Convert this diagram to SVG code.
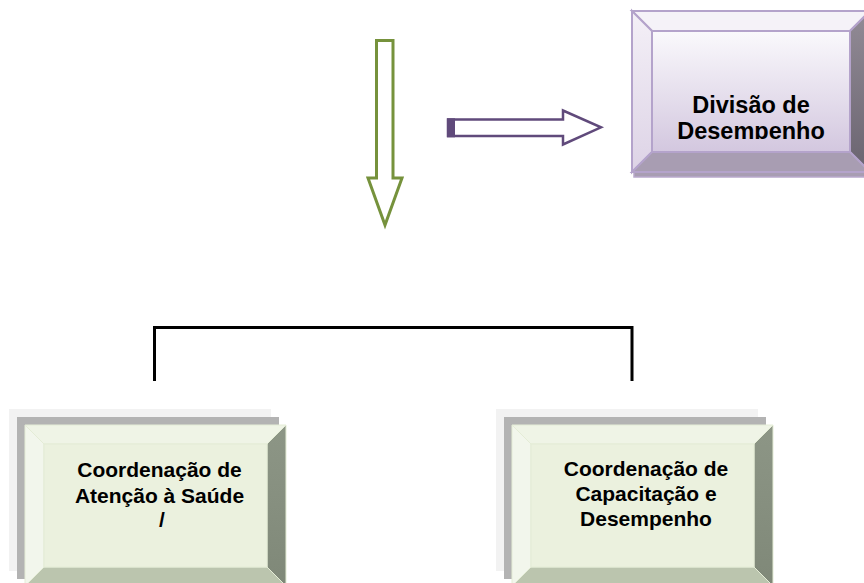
<svg xmlns="http://www.w3.org/2000/svg" width="864" height="583" viewBox="0 0 864 583">
  <defs>
    <style>
      .lbl { font-family: "Liberation Sans", Arial, sans-serif; font-weight: bold; fill: #000; text-anchor: middle; }
      .g-lbl { font-size: 21px; }
      .p-lbl { font-size: 23.5px; }
      .g-face { fill: #EBF1DE; stroke: #E4ECD6; stroke-width: 1; }
      .g-top { fill: #EFF4E6; stroke: #E4ECD6; stroke-width: 1; }
      .g-left { fill: #F2F6EC; stroke: #E4ECD6; stroke-width: 1; }
      .g-right { fill: url(#gRight); stroke: #E4ECD6; stroke-width: 1; }
      .g-bottom { fill: #BBC5AE; stroke: #E4ECD6; stroke-width: 1; }
      .sh1 { fill: #F2F2F2; }
      .sh2 { fill: #B3B3B3; }
      .p-face { fill: url(#pFace); stroke: #B4A3CB; stroke-width: 2; }
      .p-top { fill: #F5F2F8; stroke: #B4A3CB; stroke-width: 2; }
      .p-left { fill: url(#pLeft); stroke: #B4A3CB; stroke-width: 2; }
      .p-right { fill: url(#pRight); stroke: #B4A3CB; stroke-width: 2; }
      .p-bottom { fill: #A89DB2; stroke: #B4A3CB; stroke-width: 2; }
      .conn { fill: none; stroke: #000; stroke-width: 3; }
    </style>
    <linearGradient id="gRight" x1="0" y1="0" x2="0" y2="1">
      <stop offset="0" stop-color="#8D9686"/>
      <stop offset="1" stop-color="#7F8878"/>
    </linearGradient>
    <linearGradient id="pFace" x1="0" y1="0" x2="0" y2="1">
      <stop offset="0" stop-color="#FAF9FC"/>
      <stop offset="1" stop-color="#D3C7DF"/>
    </linearGradient>
    <linearGradient id="pLeft" x1="0" y1="0" x2="0" y2="1">
      <stop offset="0" stop-color="#F4F0F7"/>
      <stop offset="1" stop-color="#DDD3E6"/>
    </linearGradient>
    <linearGradient id="pRight" x1="0" y1="0" x2="0" y2="1">
      <stop offset="0" stop-color="#928B96"/>
      <stop offset="1" stop-color="#6A6470"/>
    </linearGradient>
    <clipPath id="divClip">
      <rect x="652" y="31" width="198" height="108"/>
    </clipPath>
  </defs>

  <rect width="864" height="583" fill="#FFFFFF"/>

  <g id="connectors">
    <path id="arrow-down" d="M376.5,40.5 H393 V178 H402 L385,225 L368,178 H376.5 Z" fill="#FFFFFF" stroke="#76923C" stroke-width="3" stroke-linejoin="miter"/>
    <path id="arrow-right" d="M448,119.5 H563 V110.5 L601,127.3 L563,144.5 V136 H448 Z" fill="#FFFFFF" stroke="#604A7B" stroke-width="2.5" stroke-linejoin="miter"/>
    <rect x="447" y="118.3" width="8" height="19" fill="#604A7B"/>
    <path id="bracket" class="conn" d="M154.5,381 V327.5 H632 V381"/>
  </g>

  <g id="node-divisao">
    <rect x="634" y="16" width="238" height="161" fill="#A89DB2" stroke="#B9A9CC" stroke-width="1.5"/>
    <polygon class="p-top" points="632,11 870,11 850,31 652,31"/>
    <polygon class="p-left" points="632,11 652,31 652,152 632,172"/>
    <polygon class="p-right" points="870,11 870,172 850,152 850,31"/>
    <polygon class="p-bottom" points="632,172 652,152 850,152 870,172"/>
    <rect class="p-face" x="652" y="31" width="198" height="121"/>
    <g clip-path="url(#divClip)">
      <text class="lbl p-lbl" x="751" y="113">Divisão de</text>
      <text class="lbl p-lbl" x="751" y="139">Desempenho</text>
    </g>
  </g>

  <g id="node-atencao">
    <rect class="sh1" x="9" y="409" width="262" height="162"/>
    <rect class="sh2" x="17" y="417" width="262" height="162"/>
    <polygon class="g-top" points="25,425 286,425 267,444 44,444"/>
    <polygon class="g-left" points="25,425 44,444 44,567 25,586"/>
    <polygon class="g-right" points="286,425 286,586 267,567 267,444"/>
    <polygon class="g-bottom" points="25,586 44,567 267,567 286,586"/>
    <rect class="g-face" x="44" y="444" width="223" height="123"/>
    <text class="lbl g-lbl" x="159.5" y="477">Coordenação de</text>
    <text class="lbl g-lbl" x="159.5" y="503">Atenção à Saúde</text>
    <text class="lbl g-lbl" x="162" y="527">/</text>
  </g>

  <g id="node-capacitacao">
    <rect class="sh1" x="496" y="409" width="262" height="162"/>
    <rect class="sh2" x="504" y="417" width="262" height="162"/>
    <polygon class="g-top" points="512,425 773,425 754,444 531,444"/>
    <polygon class="g-left" points="512,425 531,444 531,567 512,586"/>
    <polygon class="g-right" points="773,425 773,586 754,567 754,444"/>
    <polygon class="g-bottom" points="512,586 531,567 754,567 773,586"/>
    <rect class="g-face" x="531" y="444" width="223" height="123"/>
    <text class="lbl g-lbl" x="646" y="476">Coordenação de</text>
    <text class="lbl g-lbl" x="646" y="501">Capacitação e</text>
    <text class="lbl g-lbl" x="646" y="526">Desempenho</text>
  </g>
</svg>
